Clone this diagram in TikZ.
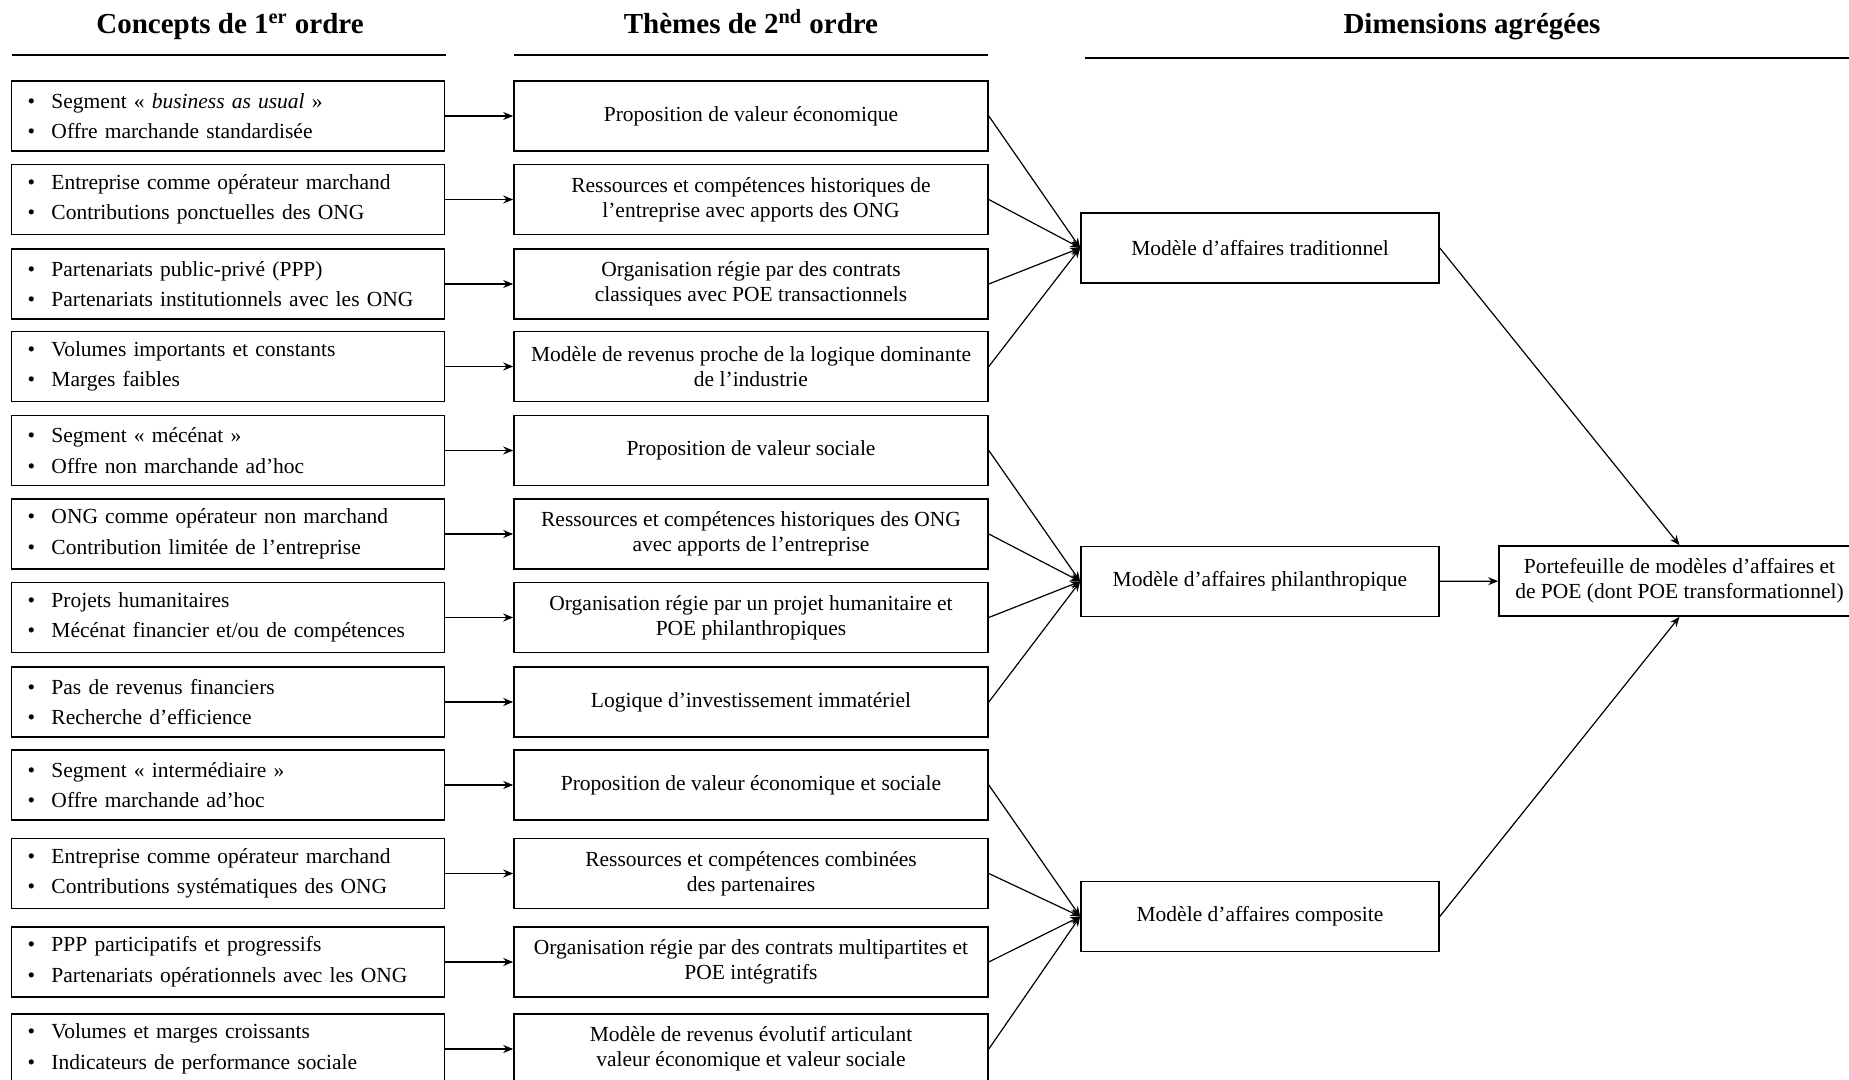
\documentclass[tikz,border=0pt]{standalone}
\usepackage{fontspec}
\setmainfont{Liberation Serif}
\usepackage{tikz}
\usetikzlibrary{arrows.meta,positioning}

\newcommand{\puces}[2]{\makebox[12pt][l]{\textbullet}#1\\[2.8pt]\makebox[12pt][l]{\textbullet}#2}

\begin{document}
\begin{tikzpicture}[x=0.5pt, y=-0.5pt,
    every node/.style={font=\fontsize{10.75}{12.5}\selectfont},
    titre/.style={anchor=base, font=\fontsize{14.5}{17}\selectfont\bfseries},
    concept/.style={draw, line width=0.8pt, minimum width=216.5pt, minimum height=35pt,
      text width=200.5pt, inner xsep=8pt, align=left},
    theme/.style={draw, line width=0.8pt, minimum width=237pt, minimum height=35pt,
      inner xsep=2pt, align=center},
    dimension/.style={draw, line width=0.8pt, minimum width=179pt, minimum height=35pt,
      align=center},
    fleche/.style={line width=0.6pt, -{Stealth[length=5pt,width=4pt]}}]
    \useasboundingbox (0,0) rectangle (1849,1080);

    % ── Titres des colonnes ─────────────────────────────────────────────────
    \node[titre] (h1) at (230,34) {Concepts de 1\textsuperscript{er} ordre};
    \node[titre] (h2) at (751,34) {Thèmes de 2\textsuperscript{nd} ordre};
    \node[titre] (h3) at (1472,34) {Dimensions agrégées};
    \draw[line width=1.2pt] (12,55) -- (446,55);
    \draw[line width=1.2pt] (514,55) -- (988,55);
    \draw[line width=1.2pt] (1085,58) -- (1849,58);

    % ── Concepts et thèmes ──────────────────────────────────────────────────
    \foreach \i/\y/\a/\b/\t in {
      1/116/{Segment «~\textit{business as usual}~»}/{Offre marchande standardisée}/{Proposition de valeur économique},
      2/199.5/{Entreprise comme opérateur marchand}/{Contributions ponctuelles des ONG}/{Ressources et compétences historiques de\\l’entreprise avec apports des ONG},
      3/284/{Partenariats public-privé (PPP)}/{Partenariats institutionnels avec les ONG}/{Organisation régie par des contrats\\classiques avec POE transactionnels},
      4/366.5/{Volumes importants et constants}/{Marges faibles}/{Modèle de revenus proche de la logique dominante\\de l’industrie},
      5/450.5/{Segment «~mécénat~»}/{Offre non marchande ad’hoc}/{Proposition de valeur sociale},
      6/534/{ONG comme opérateur non marchand}/{Contribution limitée de l’entreprise}/{Ressources et compétences historiques des ONG\\avec apports de l’entreprise},
      7/617.5/{Projets humanitaires}/{Mécénat financier et/ou de compétences}/{Organisation régie par un projet humanitaire et\\POE philanthropiques},
      8/702/{Pas de revenus financiers}/{Recherche d’efficience}/{Logique d’investissement immatériel},
      9/785/{Segment «~intermédiaire~»}/{Offre marchande ad’hoc}/{Proposition de valeur économique et sociale},
      10/873.5/{Entreprise comme opérateur marchand}/{Contributions systématiques des ONG}/{Ressources et compétences combinées\\des partenaires},
      11/962/{PPP participatifs et progressifs}/{Partenariats opérationnels avec les ONG}/{Organisation régie par des contrats multipartites et\\POE intégratifs},
      12/1049/{Volumes et marges croissants}/{Indicateurs de performance sociale}/{Modèle de revenus évolutif articulant\\valeur économique et valeur sociale}} {
      \node[concept] (c\i) at (228,\y) {\puces{\a}{\b}};
      \node[theme] (t\i) at (751,\y) {\t};
      \draw[fleche] (c\i) -- (t\i);
    }

    % ── Dimensions agrégées ─────────────────────────────────────────────────
    \node[dimension] (d1) at (1260,248) {Modèle d’affaires traditionnel};
    \node[dimension] (d2) at (1260,581.5) {Modèle d’affaires philanthropique};
    \node[dimension] (d3) at (1260,916.5) {Modèle d’affaires composite};
    \node[dimension, minimum width=180.5pt] (p) at (1679.5,581) {Portefeuille de modèles d’affaires et\\de POE (dont POE transformationnel)};

    \foreach \i in {1,...,4} \draw[fleche] (t\i.east) -- (d1.west);
    \foreach \i in {5,...,8} \draw[fleche] (t\i.east) -- (d2.west);
    \foreach \i in {9,...,12} \draw[fleche] (t\i.east) -- (d3.west);

    \draw[fleche] (d1.east) -- (p.north);
    \draw[fleche] (d2) -- (p);
    \draw[fleche] (d3.east) -- (p.south);
\end{tikzpicture}
\end{document}
